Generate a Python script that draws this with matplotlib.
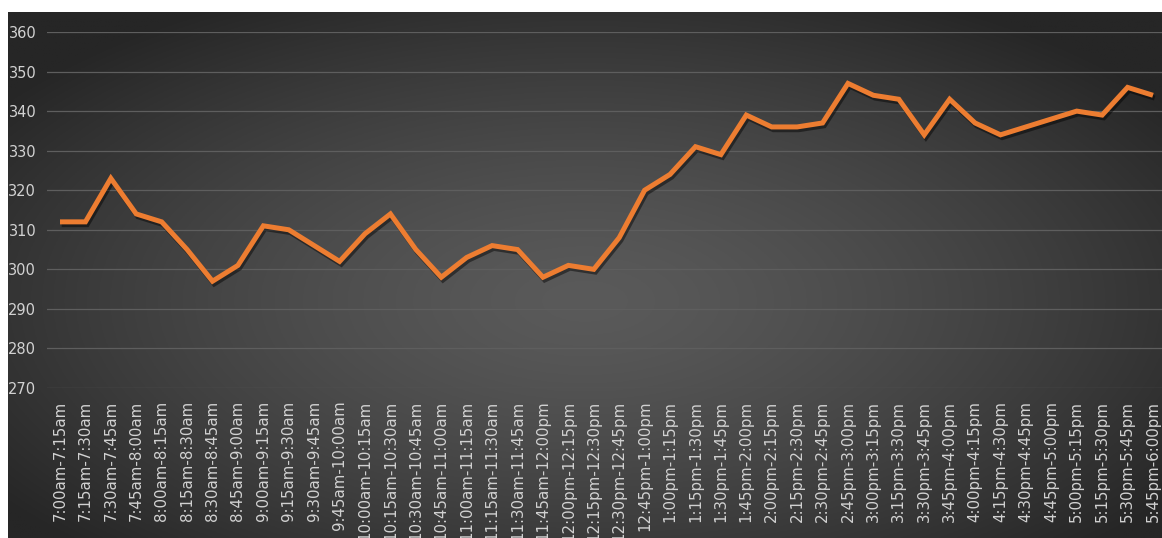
import numpy as np
import matplotlib
matplotlib.use("Agg")
import matplotlib.pyplot as plt
import matplotlib.patheffects as pe

# 15-minute intervals from 7:00am to 6:00pm
intervals = [
    "7:00am-7:15am", "7:15am-7:30am", "7:30am-7:45am", "7:45am-8:00am",
    "8:00am-8:15am", "8:15am-8:30am", "8:30am-8:45am", "8:45am-9:00am",
    "9:00am-9:15am", "9:15am-9:30am", "9:30am-9:45am", "9:45am-10:00am",
    "10:00am-10:15am", "10:15am-10:30am", "10:30am-10:45am", "10:45am-11:00am",
    "11:00am-11:15am", "11:15am-11:30am", "11:30am-11:45am", "11:45am-12:00pm",
    "12:00pm-12:15pm", "12:15pm-12:30pm", "12:30pm-12:45pm", "12:45pm-1:00pm",
    "1:00pm-1:15pm", "1:15pm-1:30pm", "1:30pm-1:45pm", "1:45pm-2:00pm",
    "2:00pm-2:15pm", "2:15pm-2:30pm", "2:30pm-2:45pm", "2:45pm-3:00pm",
    "3:00pm-3:15pm", "3:15pm-3:30pm", "3:30pm-3:45pm", "3:45pm-4:00pm",
    "4:00pm-4:15pm", "4:15pm-4:30pm", "4:30pm-4:45pm", "4:45pm-5:00pm",
    "5:00pm-5:15pm", "5:15pm-5:30pm", "5:30pm-5:45pm", "5:45pm-6:00pm",
]

counts = [
    312, 312, 323, 314, 312, 305, 297, 301, 311, 310, 306, 302,
    309, 314, 305, 298, 303, 306, 305, 298, 301, 300, 308, 320,
    324, 331, 329, 339, 336, 336, 337, 347, 344, 343, 334, 343,
    337, 334, 336, 338, 340, 339, 346, 344,
]

y_ticks = [270, 280, 290, 300, 310, 320, 330, 340, 350, 360]

W, H = 1162, 538
fig = plt.figure(figsize=(W / 100, H / 100), dpi=100)
fig.patch.set_facecolor("white")

# dark radial-gradient panel behind the chart
bg = fig.add_axes([8 / W, 0, (W - 8) / W, (H - 12) / H])
bg.set_axis_off()
gx, gy = np.meshgrid(np.linspace(-1, 1, 600), np.linspace(-1, 1, 300))
r = np.sqrt((gx / 1.0) ** 2 + ((gy + 0.1) / 1.05) ** 2)
r = np.clip(r / 1.25, 0, 1)
inner = np.array([0x5a, 0x5a, 0x5a]) / 255
outer = np.array([0x26, 0x26, 0x26]) / 255
img = inner[None, None, :] * (1 - r[..., None] ** 1.4) + outer[None, None, :] * (r[..., None] ** 1.4)
bg.imshow(img, extent=[0, 1, 0, 1], aspect="auto", origin="lower")
bg.set_xlim(0, 1)
bg.set_ylim(0, 1)

# data axes
left_px, right_px = 47.3, 1165.7
top_px, bottom_px = 32, 388
ax = fig.add_axes([left_px / W, (H - bottom_px) / H,
                   (right_px - left_px) / W, (bottom_px - top_px) / H])
ax.set_facecolor("none")
x = np.arange(len(intervals))
ax.set_xlim(-0.5, len(intervals) - 0.5)
ax.set_ylim(270, 360)

ax.set_yticks(y_ticks)
ax.grid(axis="y", color="#5e5e5e", linewidth=0.9)
ax.set_axisbelow(True)
for s in ax.spines.values():
    s.set_visible(False)

ax.plot(x, counts, color="#ED7D31", linewidth=3.6, solid_joinstyle="miter",
        solid_capstyle="butt",
        path_effects=[pe.SimpleLineShadow(offset=(1.2, -2.0), shadow_color="black", alpha=0.45),
                      pe.Normal()],
        zorder=3)

ax.set_xticks(x)
ax.set_xticklabels(intervals, rotation=90, ha="center", va="top",
                   fontsize=10.8, color="#d2d2d2", family="DejaVu Sans")
ax.tick_params(axis="x", length=0, pad=9)
ax.tick_params(axis="y", length=0, pad=8, labelsize=10.5, labelcolor="#d2d2d2")
for lbl in ax.get_yticklabels():
    lbl.set_family("DejaVu Sans")

fig.savefig("out.png", dpi=100, facecolor=fig.get_facecolor())
